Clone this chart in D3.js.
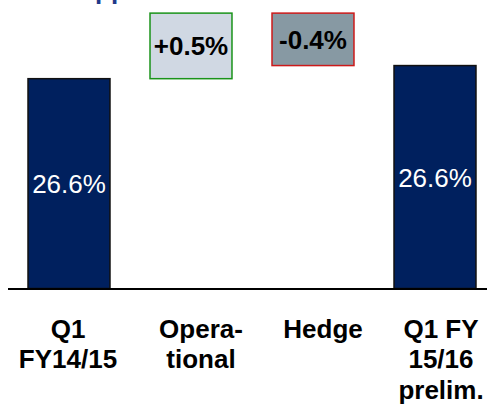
<!DOCTYPE html>
<html>
<head>
<meta charset="utf-8">
<script src="https://cdn.jsdelivr.net/npm/d3@7"></script>
<style>
  body { margin: 0; background: #fff; }
  svg { display: block; font-family: Arial, "Liberation Sans", sans-serif; }
</style>
</head>
<body>
<script>
// chart data
var categories = ['Q1 FY14/15', 'Operational', 'Hedge', 'Q1 FY 15/16 prelim.'];
var catLines = [['Q1', 'FY14/15'], ['Opera-', 'tional'], ['Hedge'], ['Q1 FY', '15/16', 'prelim.']];
var startValue = 26.6;          // gross margin Q1 FY14/15
var deltas = [0.5, -0.4];       // operational, hedge
var valueLabels = ['26.6%', '+0.5%', '-0.4%', '26.6%'];

var width = 487, height = 404;

var svg = d3.select('body').append('svg')
    .attr('width', width)
    .attr('height', height);

// build waterfall steps from the data
var steps = [];
var run = startValue;
steps.push({ cat: categories[0], y0: 25, y1: run, kind: 'total' });
deltas.forEach(function(d, i) {
    steps.push({ cat: categories[i + 1], y0: run, y1: run + d, kind: d >= 0 ? 'up' : 'down' });
    run += d;
});
steps.push({ cat: categories[3], y0: 25, y1: run, kind: 'total' });

// broken axis starting at 25%
var x = d3.scaleBand()
    .domain(categories)
    .range([8, 496])
    .paddingInner(0.328)
    .paddingOuter(0.164);

var y = d3.scaleLinear()
    .domain([25, 27.2])
    .range([288.5, 0]);

var fills = { total: '#00205e', up: '#d0d8e3', down: '#8799a3' };
var strokes = { total: '#111', up: '#1a931a', down: '#cc1a1a' };

// partially visible title above the chart (cut off)
svg.append('text')
    .attr('x', 95)
    .attr('y', -1.5)
    .attr('fill', '#1f3a8a')
    .style('font-size', '26px')
    .style('font-weight', 'bold')
    .text('pp');

svg.selectAll('rect.step')
    .data(steps)
    .enter().append('rect')
        .attr('class', 'step')
        .attr('x', function(d) { return x(d.cat); })
        .attr('width', x.bandwidth())
        .attr('y', function(d) { return y(Math.max(d.y0, d.y1)); })
        .attr('height', function(d) { return Math.abs(y(d.y0) - y(d.y1)); })
        .attr('fill', function(d) { return fills[d.kind]; })
        .attr('stroke', function(d) { return strokes[d.kind]; })
        .attr('stroke-width', 1.5);

// value labels, centred in each block
svg.selectAll('text.val')
    .data(steps)
    .enter().append('text')
        .attr('class', 'val')
        .attr('x', function(d) { return x(d.cat) + x.bandwidth() / 2; })
        .attr('y', function(d) { return (y(d.y0) + y(d.y1)) / 2 + 9.5; })
        .attr('text-anchor', 'middle')
        .attr('fill', function(d) { return d.kind === 'total' ? '#fff' : '#000'; })
        .style('font-size', '26px')
        .style('font-weight', function(d) { return d.kind === 'total' ? 'normal' : 'bold'; })
        .text(function(d, i) { return valueLabels[i]; });

// baseline
svg.append('line')
    .attr('x1', 8)
    .attr('x2', width)
    .attr('y1', 289)
    .attr('y2', 289)
    .attr('stroke', '#000')
    .attr('stroke-width', 2);

// category labels (slightly offset like the original text row)
var labelShift = [-1, 10, 10, 6];
var cat = svg.selectAll('text.cat')
    .data(categories)
    .enter().append('text')
        .attr('class', 'cat')
        .attr('text-anchor', 'middle')
        .style('font-size', '26px')
        .style('font-weight', 'bold')
        .attr('fill', '#000');

cat.each(function(d, i) {
    var cx = x(d) + x.bandwidth() / 2 + labelShift[i];
    d3.select(this).selectAll('tspan')
        .data(catLines[i])
        .enter().append('tspan')
            .attr('x', cx)
            .attr('y', function(t, j) { return 337.5 + j * 30.7; })
            .text(function(t) { return t; });
});
</script>
</body>
</html>
